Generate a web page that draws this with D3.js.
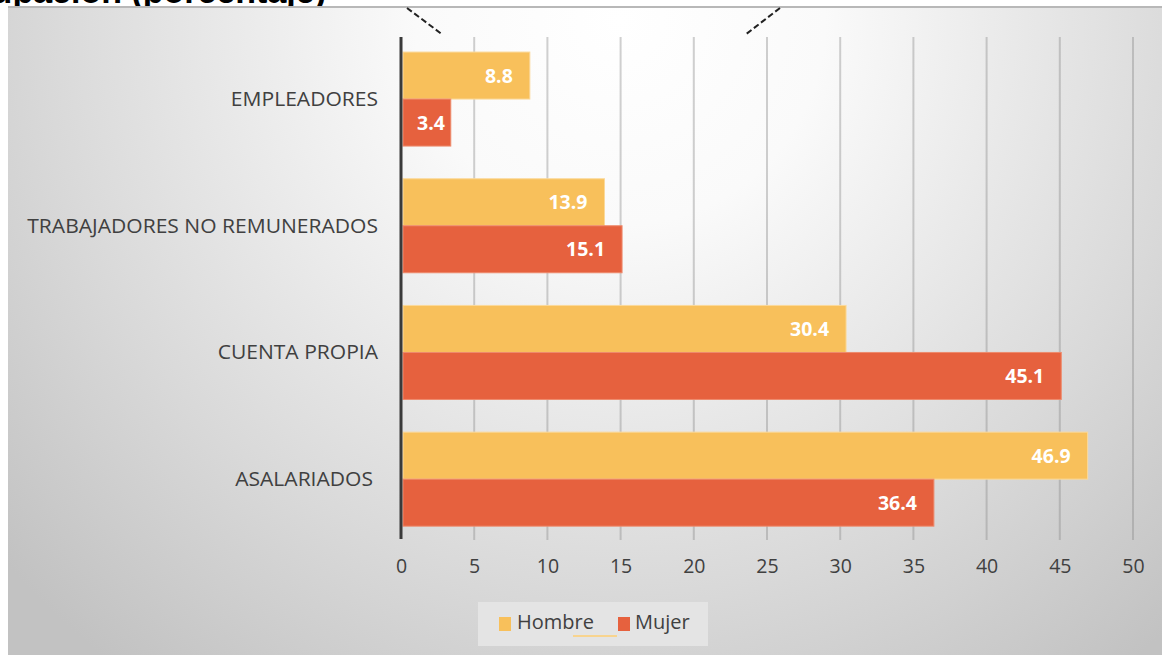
<!DOCTYPE html>
<html><head><meta charset="utf-8">
<script src="https://cdn.jsdelivr.net/npm/d3@7"></script>
<style>html,body{margin:0;padding:0;background:#fff;}svg{display:block;}</style>
</head><body>
<svg id="chart" width="1162" height="655"></svg>
<script>
const categories = ["EMPLEADORES", "TRABAJADORES NO REMUNERADOS", "CUENTA PROPIA", "ASALARIADOS"];
const seriesNames = ["Hombre", "Mujer"];
const hombre = [8.8, 13.9, 30.4, 46.9];
const mujer = [3.4, 15.1, 45.1, 36.4];
const xTicks = [0, 5, 10, 15, 20, 25, 30, 35, 40, 45, 50];
const colors = ["#F8C05B", "#E6613E"];

const svg = d3.select("#chart");
const W = 1162, H = 655;
const font = "'Open Sans', sans-serif";

// title (cut off at top, as in the reference)
svg.append("text").attr("x", 326).attr("y", 3).attr("text-anchor", "end")
  .attr("font-family", "'Liberation Sans', Arial, sans-serif").attr("font-weight", "bold")
  .attr("font-size", 34).attr("fill", "#000")
  .text("ocupación (porcentaje)");

// background gradient
const defs = svg.append("defs");
const rg = defs.append("radialGradient").attr("id", "bg")
  .attr("gradientUnits", "userSpaceOnUse").attr("cx", 620).attr("cy", 20).attr("r", 820);
rg.append("stop").attr("offset", "0%").attr("stop-color", "#ffffff");
rg.append("stop").attr("offset", "25%").attr("stop-color", "#fafafa");
rg.append("stop").attr("offset", "70%").attr("stop-color", "#d9d9d9");
rg.append("stop").attr("offset", "100%").attr("stop-color", "#c2c2c2");
svg.append("rect").attr("x", 8).attr("y", 7).attr("width", W - 8).attr("height", H - 7).attr("fill", "url(#bg)");
svg.append("line").attr("x1", 8).attr("x2", W).attr("y1", 7).attr("y2", 7)
  .attr("stroke", "#b8b8b8").attr("stroke-width", 2);

// decorative dashed diagonal strokes at top
[[407, 8, 443, 35], [780, 8, 745, 35]].forEach(([a, b, c, d]) => {
  svg.append("line").attr("x1", a).attr("y1", b).attr("x2", c).attr("y2", d)
    .attr("stroke", "#222").attr("stroke-width", 2).attr("stroke-dasharray", "6,3");
});

const x = d3.scaleLinear().domain([0, 50]).range([401, 1133]);
const y = d3.scaleBand().domain(categories).range([35.7, 542.5]).paddingInner(0.258).paddingOuter(0.129);
const ys = d3.scaleBand().domain(seriesNames).range([0, y.bandwidth()]);

// gridlines
svg.append("g").selectAll("line").data(xTicks.slice(1)).join("line")
  .attr("x1", d => x(d)).attr("x2", d => x(d)).attr("y1", 37).attr("y2", 540)
  .attr("stroke", "#8a8a8a").attr("stroke-opacity", 0.4).attr("stroke-width", 2);

// bars
const data = [];
categories.forEach((c, i) => {
  data.push({cat: c, s: "Hombre", v: hombre[i], col: colors[0]});
  data.push({cat: c, s: "Mujer", v: mujer[i], col: colors[1]});
});
const g = svg.append("g");
g.selectAll("rect").data(data).join("rect")
  .attr("x", x(0) + 2).attr("y", d => y(d.cat) + ys(d.s))
  .attr("width", d => x(d.v) - x(0) - 2).attr("height", ys.bandwidth())
  .attr("fill", d => d.col)
  .attr("stroke", d => d.s === "Hombre" ? "#fbd99a" : "#ee8a6c").attr("stroke-width", 1);

g.selectAll("text").data(data).join("text")
  .attr("y", d => y(d.cat) + ys(d.s) + ys.bandwidth() / 2)
  .attr("dy", "0.36em").attr("text-anchor", "end")
  .attr("font-family", font).attr("font-weight", "bold").attr("font-size", 19.5).attr("fill", "#fff")
  .text(d => d.v.toFixed(1))
  .attr("x", function(d) {
    const w = this.getComputedTextLength();
    return Math.max(x(d.v) - 17, x(0) + 16 + w);
  });

// axis line
svg.append("line").attr("x1", 401).attr("x2", 401).attr("y1", 37).attr("y2", 539)
  .attr("stroke", "#3a3a3a").attr("stroke-width", 3);

// category labels
svg.append("g").selectAll("text").data(categories).join("text")
  .attr("transform", d => `translate(${d === "ASALARIADOS" ? 373 : 378},${y(d) + y.bandwidth() / 2}) scale(1.08,1)`)
  .attr("dy", "0.36em").attr("text-anchor", "end")
  .attr("font-family", font).attr("font-size", 19.5).attr("fill", "#404040")
  .text(d => d);

// x axis tick labels
const xAxis = d3.axisBottom(x).tickValues(xTicks).tickSize(0).tickPadding(0);
const ax = svg.append("g").attr("transform", "translate(0,559)").call(xAxis);
ax.select(".domain").remove();
ax.selectAll("text").attr("font-family", font).attr("font-size", 19.5).attr("fill", "#404040");

// legend
const lg = svg.append("g");
lg.append("rect").attr("x", 478).attr("y", 602).attr("width", 230).attr("height", 44).attr("fill", "#e4e4e4");
const items = [{n: "Hombre", c: colors[0], sx: 499, tx: 517}, {n: "Mujer", c: colors[1], sx: 618, tx: 635}];
lg.selectAll("rect.sw").data(items).join("rect").attr("class", "sw")
  .attr("x", d => d.sx).attr("y", 617).attr("width", 12).attr("height", 14).attr("fill", d => d.c);
lg.selectAll("text").data(items).join("text")
  .attr("x", d => d.tx).attr("y", 629)
  .attr("font-family", font).attr("font-size", 20).attr("fill", "#404040")
  .text(d => d.n);
lg.append("line").attr("x1", 573).attr("x2", 617).attr("y1", 636).attr("y2", 636)
  .attr("stroke", "#f8d48f").attr("stroke-width", 2);
</script>
</body></html>
